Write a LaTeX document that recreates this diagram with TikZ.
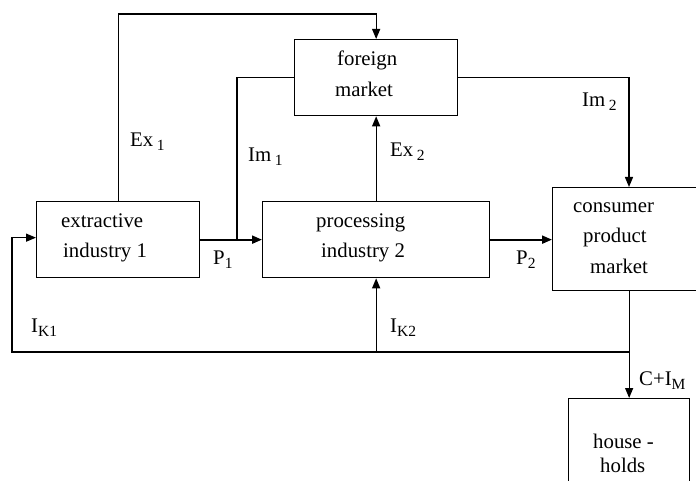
\documentclass[tikz,border=0pt]{standalone}
\usepackage{fontspec}
\setmainfont{Liberation Serif}
\usetikzlibrary{arrows.meta}
% lowered, smaller index text
\newcommand{\lowsub}[1]{\raisebox{-4pt}{\fontsize{15.5}{15.5}\selectfont #1}}

\begin{document}
\begin{tikzpicture}[x=1pt,y=-1pt,
  box/.style={draw, line width=1.3pt, rectangle, inner sep=0pt, anchor=north west},
  txt/.style={anchor=base west, inner sep=0pt, font=\fontsize{20.8}{25}\selectfont},
  link/.style={line width=1.3pt},
  flow/.style={line width=1.3pt, -{Triangle[length=10pt,width=8pt]}},
  bigflow/.style={line width=2pt, -{Triangle[length=10pt,width=8pt]}}]
\useasboundingbox (0,0) rectangle (696,481);

% boxes
\node[box, minimum width=163pt, minimum height=76pt] (fm) at (294,39) {};
\node[box, minimum width=163pt, minimum height=76pt] (ex) at (36,201) {};
\node[box, minimum width=227pt, minimum height=76pt] (pr) at (262,201) {};
\node[box, minimum width=146pt, minimum height=103pt] (cp) at (552,187) {};
\node[box, minimum width=121pt, minimum height=100pt] (hh) at (568,398) {};

% box texts
\node[txt] (fm1) at (337,66) {foreign};
\node[txt] (fm2) at (335,97) {market};
\node[txt] (ex1) at (61,228) {extractive};
\node[txt] (ex2) at (63,258) {industry 1};
\node[txt] (pr1) at (316,228) {processing};
\node[txt] (pr2) at (321,258) {industry 2};
\node[txt] (cp1) at (573,213) {consumer};
\node[txt] (cp2) at (583,243) {product};
\node[txt] (cp3) at (590,273) {market};
\node[txt] (hh1) at (593,448) {house -};
\node[txt] (hh2) at (600,472) {holds};

% junction points
\coordinate (j1) at (237,239);
\coordinate (j2) at (hh.north |- 0,352);
\coordinate (imin) at ([xshift=77pt]cp.north west);

% flows
\draw[flow] (ex.north) -- ++(0,-187) -| (fm.north);
\draw[link] (fm.west) -| (j1);
\draw[bigflow] (ex.east) -- (pr.west);
\draw[flow] (pr.north) -- (fm.south);
\draw[flow] (fm.east) -| (imin);
\draw[bigflow] (pr.east) -- (cp.west |- pr.east);
\draw[flow] (cp.south -| hh.north) -- (hh.north);
\draw[flow] (j2) -- (12,352) |- ([yshift=2pt]ex.west);
\draw[flow] (pr.south |- j2) -- (pr.south);

% flow labels
\node[txt] (lex1) at (130,147) {Ex\,\lowsub{1}};
\node[txt] (lim1) at (248,162) {Im\,\lowsub{1}};
\node[txt] (lex2) at (390,157) {Ex\,\lowsub{2}};
\node[txt] (lim2) at (582,107) {Im\,\lowsub{2}};
\node[txt] (lp1) at (213,265) {P\lowsub{1}};
\node[txt] (lp2) at (516,265) {P\lowsub{2}};
\node[txt] (lik1) at (31,332) {I\lowsub{K1}};
\node[txt] (lik2) at (390,332) {I\lowsub{K2}};
\node[txt] (lc) at (639,385) {C+I\lowsub{M}};
\end{tikzpicture}
\end{document}
